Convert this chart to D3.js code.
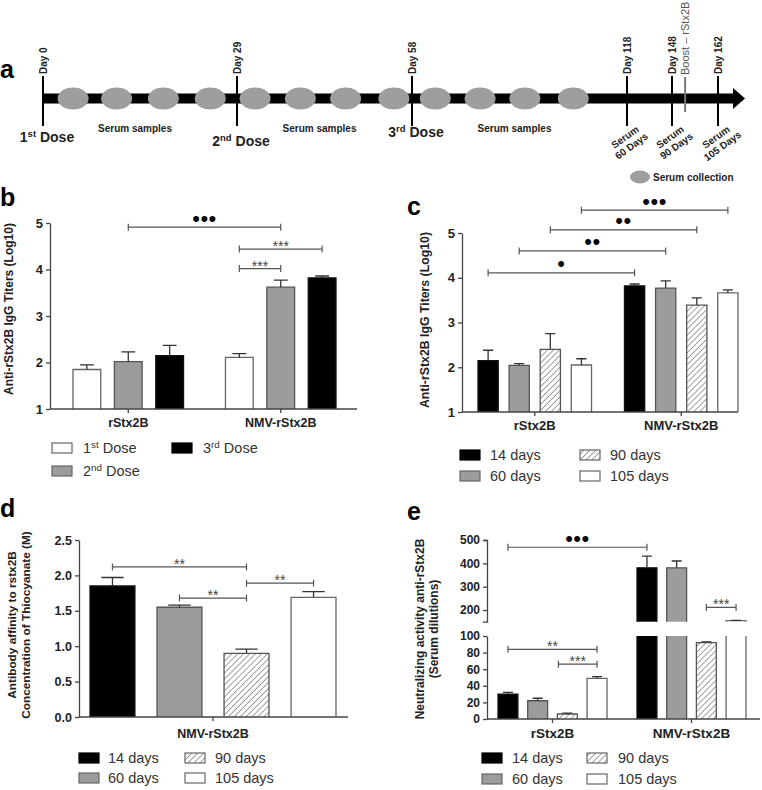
<!DOCTYPE html>
<html><head><meta charset="utf-8">
<script src="https://cdn.jsdelivr.net/npm/d3@7"></script>
<style>
body{margin:0;background:#fff}
svg{display:block;font-family:"Liberation Sans",Arial,Helvetica,sans-serif}
</style>
</head><body>
<svg id="fig" width="762" height="790"></svg>
<script>
// ================= DATA =================
// Panel a : immunization timeline
const timelineDays = [0, 29, 58, 118, 148, 162];
const doseDays = [0, 29, 58];
const doseNames = ["1st Dose", "2nd Dose", "3rd Dose"];
const serumSampleDays = [4.5, 11, 18, 25, 32, 39.5, 47, 55, 64.5, 77, 89.5, 103];
const serumPointDays = [118, 148, 162];
const serumPointLabels = ["60 Days", "90 Days", "105 Days"];
const boostDay = 152;
const boostLabel = "Boost \u2013 rStx2B";

// Panel b : IgG titers after each dose
const groupsB = ["rStx2B", "NMV-rStx2B"];
const seriesB = ["1st Dose", "2nd Dose", "3rd Dose"];
const valuesB = [[1.85, 2.02, 2.15], [2.11, 3.62, 3.82]];
const errorsB = [[0.10, 0.21, 0.22], [0.08, 0.15, 0.04]];
const ticksB = [1, 2, 3, 4, 5];
const bracketsB = [["rStx2B", 1, "NMV-rStx2B", 1, 4.91, "•••"],
                   ["NMV-rStx2B", 0, "NMV-rStx2B", 2, 4.44, "***"],
                   ["NMV-rStx2B", 0, "NMV-rStx2B", 1, 4.02, "***"]];

// Panel c : IgG titers over time
const groupsC = ["rStx2B", "NMV-rStx2B"];
const seriesDays = ["14 days", "60 days", "90 days", "105 days"];
const valuesC = [[2.15, 2.04, 2.40, 2.05], [3.82, 3.77, 3.39, 3.66]];
const errorsC = [[0.23, 0.04, 0.35, 0.14], [0.04, 0.16, 0.16, 0.07]];
const ticksC = [1, 2, 3, 4, 5];
const bracketsC = [["rStx2B", 0, "NMV-rStx2B", 0, 4.11, "•"],
                   ["rStx2B", 1, "NMV-rStx2B", 1, 4.60, "••"],
                   ["rStx2B", 2, "NMV-rStx2B", 2, 5.07, "••"],
                   ["rStx2B", 3, "NMV-rStx2B", 3, 5.51, "•••"]];

// Panel d : antibody affinity
const groupsD = ["NMV-rStx2B"];
const valuesD = [[1.85, 1.55, 0.90, 1.69]];
const errorsD = [[0.12, 0.03, 0.06, 0.08]];
const ticksD = [0, 0.5, 1.0, 1.5, 2.0, 2.5];
const bracketsD = [["NMV-rStx2B", 0, "NMV-rStx2B", 2, 2.12, "**"],
                   ["NMV-rStx2B", 1, "NMV-rStx2B", 2, 1.68, "**"],
                   ["NMV-rStx2B", 2, "NMV-rStx2B", 3, 1.89, "**"]];

// Panel e : neutralizing activity (broken axis)
const groupsE = ["rStx2B", "NMV-rStx2B"];
const valuesE = [[30, 22, 6, 49], [381, 381, 92, 155]];
const errorsE = [[2, 3, 1, 2], [50, 29, 1, 1]];
const ticksELow = [0, 20, 40, 60, 80, 100];
const ticksEHigh = [200, 300, 400, 500];
const bracketsE = [["rStx2B", 0, "NMV-rStx2B", 0, 469, "•••", "high"],
                   ["NMV-rStx2B", 2, "NMV-rStx2B", 3, 211, "***", "high"],
                   ["rStx2B", 0, "rStx2B", 3, 84, "**", "low"],
                   ["rStx2B", 1.7, "rStx2B", 3, 66, "***", "low"]];

// ================= STYLES =================
const svg = d3.select("#fig");
const TXT = "#222";
const AX = "#444";
const defs = svg.append("defs");
const pat = defs.append("pattern").attr("id", "hatch").attr("patternUnits", "userSpaceOnUse")
  .attr("width", 4.2).attr("height", 4.2).attr("patternTransform", "rotate(45)");
pat.append("rect").attr("width", 4.2).attr("height", 4.2).attr("fill", "#fff");
pat.append("line").attr("x1", 0).attr("y1", 0).attr("x2", 0).attr("y2", 4.2)
  .attr("stroke", "#555").attr("stroke-width", 1.1);

const STYLE = {
  black: {fill: "#000", stroke: "#111"},
  gray: {fill: "#9c9c9c", stroke: "#555"},
  hatch: {fill: "url(#hatch)", stroke: "#555"},
  white: {fill: "#fff", stroke: "#666"}
};
const styleDose = ["white", "gray", "black"];
const styleDays = ["black", "gray", "hatch", "white"];

// ================= HELPERS =================
function richText(sel, label, size) {
  const m = label.match(/^(\d+)(st|nd|rd|th)(.*)$/);
  if (!m) { sel.text(label); return; }
  sel.append("tspan").text(m[1]);
  sel.append("tspan").attr("dy", -size * 0.38).attr("font-size", size * 0.68).text(m[2]);
  sel.append("tspan").attr("dy", size * 0.38).attr("font-size", size).text(m[3]);
}

function drawBar(g, x, w, yTop, yBot, st, openTop) {
  const s = STYLE[st];
  g.append("rect").attr("x", x).attr("y", yTop).attr("width", w).attr("height", Math.max(0, yBot - yTop))
    .attr("fill", s.fill);
  const d = openTop ? `M${x},${yBot}V${yTop}M${x + w},${yTop}V${yBot}`
                    : `M${x},${yBot}V${yTop}H${x + w}V${yBot}`;
  g.append("path").attr("d", d).attr("fill", "none").attr("stroke", s.stroke).attr("stroke-width", 1.3);
}

function drawErr(g, cx, w, yTop, yErr) {
  g.append("path").attr("d", `M${cx},${yTop}V${yErr}M${cx - w / 4},${yErr}H${cx + w / 4}`)
    .attr("fill", "none").attr("stroke", "#333").attr("stroke-width", 1.3);
}

function drawBracket(g, x1, x2, yy, label) {
  g.append("path").attr("d", `M${x1},${yy - 3.5}V${yy + 3.5}M${x1},${yy}H${x2}M${x2},${yy - 3.5}V${yy + 3.5}`)
    .attr("fill", "none").attr("stroke", "#555").attr("stroke-width", 1.2);
  const dot = label.includes("•");
  g.append("text").attr("x", (x1 + x2) / 2).attr("y", dot ? yy - 1.5 : yy + 2)
    .attr("text-anchor", "middle").attr("fill", dot ? "#000" : "#444")
    .attr("font-size", dot ? 22 : 14).attr("letter-spacing", dot ? 0.5 : 0)
    .text(label);
}

function styleAxis(sel, fs) {
  sel.selectAll("path.domain").attr("stroke", AX).attr("stroke-width", 1.3);
  sel.selectAll(".tick line").attr("stroke", AX).attr("stroke-width", 1.3);
  sel.selectAll(".tick text").attr("fill", TXT).attr("font-size", fs).attr("font-weight", "bold")
    .attr("font-family", '"Liberation Sans",Arial,sans-serif');
}

function yTitle(lines, cx, cy, fs) {
  const n = lines.length;
  lines.forEach((l, i) => {
    svg.append("text").attr("transform", `translate(${cx + (i - (n - 1) / 2) * 14},${cy}) rotate(-90)`)
      .attr("text-anchor", "middle").attr("dominant-baseline", "central")
      .attr("font-size", fs).attr("font-weight", "bold").attr("fill", TXT).text(l);
  });
}

function panelLetter(t, x, y) {
  svg.append("text").attr("x", x).attr("y", y).attr("font-size", 25).attr("font-weight", "bold")
    .attr("fill", "#000").text(t);
}

function legend(names, styles, sx, tx, rows, fs) {
  names.forEach((nm, i) => {
    const c = Math.floor(i / rows.length), r = i % rows.length, yy = rows[r];
    const s = STYLE[styles[i]];
    svg.append("rect").attr("x", sx[c]).attr("y", yy - 5).attr("width", 20).attr("height", 10)
      .attr("fill", s.fill).attr("stroke", styles[i] === "black" ? "#000" : "#666").attr("stroke-width", 1.2);
    const t = svg.append("text").attr("x", tx[c]).attr("y", yy + fs * 0.36).attr("font-size", fs)
      .attr("fill", "#333");
    richText(t, nm, fs);
  });
}

function makeX(groups, range, gpad, nSeries, ipad) {
  const gx = d3.scaleBand().domain(groups).range(range).paddingInner(gpad).paddingOuter(0);
  const ix = d3.scaleBand().domain(d3.range(nSeries)).range([0, gx.bandwidth()]).paddingInner(ipad).paddingOuter(0);
  const center = (grp, idx) => gx(grp) + idx * ix.step() + ix.bandwidth() / 2;
  return {gx, ix, center};
}

function xAxis(g, gx, axisY, x0, x1, pad, fs) {
  const ax = g.append("g").attr("transform", `translate(0,${axisY})`)
    .call(d3.axisBottom(gx).tickSize(4).tickPadding(pad).tickSizeOuter(0));
  ax.select("path.domain").remove();
  styleAxis(ax, fs);
  g.append("line").attr("x1", x0).attr("x2", x1).attr("y1", axisY).attr("y2", axisY)
    .attr("stroke", AX).attr("stroke-width", 1.3);
}

function barPanel(cfg) {
  const g = svg.append("g");
  const y = d3.scaleLinear().domain(cfg.yDomain).range(cfg.yRange);
  const X = makeX(cfg.groups, cfg.groupRange, cfg.groupPad, cfg.styles.length, cfg.innerPad);
  const w = X.ix.bandwidth();
  cfg.groups.forEach((grp, gi) => {
    cfg.values[gi].forEach((v, si) => {
      const x = X.gx(grp) + X.ix(si);
      drawBar(g, x, w, y(v), y(cfg.yDomain[0]), cfg.styles[si], false);
      drawErr(g, x + w / 2, w, y(v), y(v + cfg.errors[gi][si]));
    });
  });
  const ya = g.append("g").attr("transform", `translate(${cfg.axisX[0]},0)`)
    .call(d3.axisLeft(y).tickValues(cfg.ticks).tickFormat(cfg.fmt).tickSize(4).tickPadding(3).tickSizeOuter(0));
  styleAxis(ya, cfg.tickFs);
  xAxis(g, X.gx, y(cfg.yDomain[0]), cfg.axisX[0], cfg.axisX[1], cfg.catPad, cfg.catFs);
  cfg.brackets.forEach(b => drawBracket(g, X.center(b[0], b[1]), X.center(b[2], b[3]), y(b[4]), b[5]));
}

// ================= PANEL A =================
{
  const g = svg.append("g");
  const tx = d3.scaleLinear().domain(timelineDays).range([43, 237, 412, 627, 672, 718]);
  const barY = 98.5, arrowX = 733;
  panelLetter("a", 0, 78);
  g.append("rect").attr("x", tx(0)).attr("y", barY - 5).attr("width", arrowX - tx(0)).attr("height", 10).attr("fill", "#000");
  g.append("path").attr("d", `M${arrowX},${barY - 10.5}L${arrowX + 12},${barY}L${arrowX},${barY + 10.5}Z`).attr("fill", "#000");
  g.selectAll("ellipse.s").data(serumSampleDays).join("ellipse")
    .attr("cx", d => tx(d)).attr("cy", barY).attr("rx", 15.5).attr("ry", 11).attr("fill", "#9e9e9e");
  // boost
  g.append("line").attr("x1", tx(boostDay)).attr("x2", tx(boostDay)).attr("y1", 77).attr("y2", 112)
    .attr("stroke", "#777").attr("stroke-width", 2);
  g.append("text").attr("transform", `translate(${tx(boostDay)},75) rotate(-90)`)
    .attr("dominant-baseline", "central").attr("font-size", 11).attr("fill", "#555").text(boostLabel);
  // day ticks
  timelineDays.forEach(d => {
    g.append("line").attr("x1", tx(d)).attr("x2", tx(d)).attr("y1", 76).attr("y2", 126)
      .attr("stroke", "#000").attr("stroke-width", 2);
    g.append("text").attr("transform", `translate(${tx(d)},74) rotate(-90)`)
      .attr("dominant-baseline", "central").attr("font-size", 10).attr("font-weight", "bold")
      .attr("fill", TXT).text("Day " + d);
  });
  // dose labels
  const doseY = [142, 146, 137];
  doseDays.forEach((d, i) => {
    const t = g.append("text").attr("x", tx(d) + 4).attr("y", doseY[i]).attr("text-anchor", "middle")
      .attr("font-size", 14).attr("font-weight", "bold").attr("fill", TXT);
    richText(t, doseNames[i], 14);
  });
  // serum samples labels
  for (let i = 0; i < doseDays.length; i++) {
    const a = tx(timelineDays[i]), b = tx(timelineDays[i + 1]);
    g.append("text").attr("x", (a + b) / 2 - 5).attr("y", 132).attr("text-anchor", "middle")
      .attr("font-size", 10).attr("font-weight", "bold").attr("fill", TXT).text("Serum samples");
  }
  // serum point labels (rotated)
  serumPointDays.forEach((d, i) => {
    const gg = g.append("g").attr("transform", `translate(${tx(d) - 2},137) rotate(-36)`);
    gg.append("text").attr("text-anchor", "middle").attr("dy", "0.35em").attr("font-size", 10)
      .attr("font-weight", "bold").attr("fill", TXT).text("Serum");
    gg.append("text").attr("text-anchor", "middle").attr("y", 11).attr("dy", "0.35em").attr("font-size", 10)
      .attr("font-weight", "bold").attr("fill", TXT).text(serumPointLabels[i]);
  });
  // legend
  g.append("ellipse").attr("cx", 640).attr("cy", 177).attr("rx", 10).attr("ry", 6.5).attr("fill", "#9e9e9e");
  g.append("text").attr("x", 653).attr("y", 177).attr("dominant-baseline", "central").attr("font-size", 10)
    .attr("font-weight", "bold").attr("fill", TXT).text("Serum collection");
}

// ================= PANEL B =================
panelLetter("b", 0, 206);
barPanel({
  yDomain: [1, 5], yRange: [409, 223], ticks: ticksB, fmt: d3.format("d"), tickFs: 13,
  axisX: [50, 357], groups: groupsB, groupRange: [73, 336], groupPad: 0.275, innerPad: 0.33,
  styles: styleDose, values: valuesB, errors: errorsB, brackets: bracketsB, catPad: 5, catFs: 12.5
});
yTitle(["Anti-rStx2B IgG Titers (Log10)"], 9, 309, 12);
legend(seriesB, styleDose, [52, 172], [83, 203], [448, 471], 14.5);

// ================= PANEL C =================
panelLetter("c", 407, 215);
barPanel({
  yDomain: [1, 5], yRange: [412, 233], ticks: ticksC, fmt: d3.format("d"), tickFs: 13,
  axisX: [462, 738], groups: groupsC, groupRange: [478, 738], groupPad: 0.225, innerPad: 0.35,
  styles: styleDays, values: valuesC, errors: errorsC, brackets: bracketsC, catPad: 5, catFs: 13
});
yTitle(["Anti-rStx2B IgG Titers (Log10)"], 425, 320, 12.3);
legend(seriesDays, styleDays, [460, 580], [490, 610], [455, 476], 14.5);

// ================= PANEL D =================
panelLetter("d", 0, 517);
barPanel({
  yDomain: [0, 2.5], yRange: [717, 540], ticks: ticksD, fmt: d3.format(".1f"), tickFs: 12.5,
  axisX: [79, 348], groups: groupsD, groupRange: [90, 336], groupPad: 0, innerPad: 0.33,
  styles: styleDays, values: valuesD, errors: errorsD, brackets: bracketsD, catPad: 8, catFs: 12.5
});
yTitle(["Antibody affinity to rstx2B", "Concentration of Thiocyanate (M)"], 19, 625, 11.8);
legend(seriesDays, styleDays, [79, 185], [108, 215], [758, 778], 14.5);

// ================= PANEL E =================
panelLetter("e", 407, 520);
{
  const g = svg.append("g");
  const yLow = d3.scaleLinear().domain([0, 100]).range([719, 636]);
  const yHigh = d3.scaleLinear().domain([150, 500]).range([621.7, 540]);
  const X = makeX(groupsE, [498, 746], 0.216, styleDays.length, 0.33);
  const w = X.ix.bandwidth();
  const yOf = (v, seg) => seg === "high" ? yHigh(v) : yLow(v);
  groupsE.forEach((grp, gi) => {
    valuesE[gi].forEach((v, si) => {
      const x = X.gx(grp) + X.ix(si), st = styleDays[si];
      const lowTop = Math.min(v, 100);
      drawBar(g, x, w, yLow(lowTop), yLow(0), st, v > 100);
      if (v > 150) drawBar(g, x, w, yHigh(v), yHigh(150), st, false);
      const seg = v > 150 ? "high" : "low";
      drawErr(g, x + w / 2, w, yOf(v, seg), yOf(v + errorsE[gi][si], seg));
    });
  });
  const a1 = g.append("g").attr("transform", "translate(487,0)")
    .call(d3.axisLeft(yHigh).tickValues(ticksEHigh).tickFormat(d3.format("d")).tickSize(4).tickPadding(3).tickSizeOuter(4));
  styleAxis(a1, 12);
  const a2 = g.append("g").attr("transform", "translate(487,0)")
    .call(d3.axisLeft(yLow).tickValues(ticksELow).tickFormat(d3.format("d")).tickSize(4).tickPadding(3).tickSizeOuter(0));
  styleAxis(a2, 12);
  xAxis(g, X.gx, yLow(0), 487, 760, 5, 13.5);
  bracketsE.forEach(b => drawBracket(g, X.center(b[0], b[1]), X.center(b[2], b[3]), yOf(b[4], b[6]), b[5]));
}
yTitle(["Neutralizing activity anti-rStx2B", "(Serum dilutions)"], 427, 629, 12);
legend(seriesDays, styleDays, [482, 587], [512, 618], [758, 779], 14.5);
</script>
</body></html>
